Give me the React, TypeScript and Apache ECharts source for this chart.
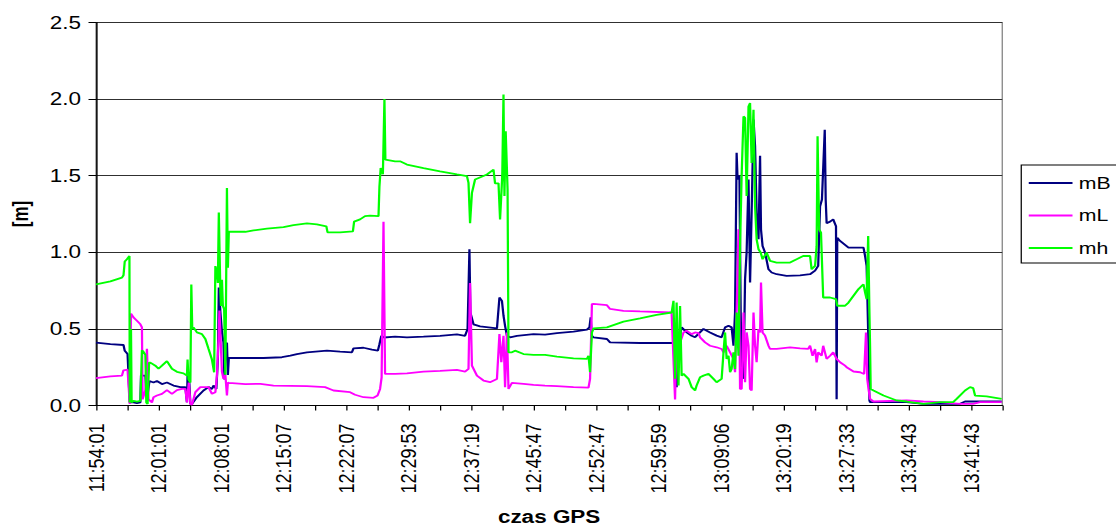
import React, { useEffect, useRef } from 'react';
import * as echarts from 'echarts';

// x values are positions in axis-tick units (one tick = half of the spacing between time labels)
const TIME_LABELS = ['11:54:01', '12:01:01', '12:08:01', '12:15:07', '12:22:07', '12:29:53', '12:37:19', '12:45:47', '12:52:47', '12:59:59', '13:09:06', '13:20:19', '13:27:33', '13:34:43', '13:41:43'];
const SERIES_NAMES = ['mB', 'mL', 'mh'];
const SERIES_COLORS = ['#000080', '#FF00FF', '#00FF00'];
const Y_TICKS = [0, 0.5, 1.0, 1.5, 2.0, 2.5];

const mB: number[][] = [[0,0.41],[0.46,0.40],[0.88,0.395],[0.92,0.357],[1.01,0.336],[1.08,0.02],[1.20,0.02],[1.31,0.015],[1.42,0.02],[1.44,0.195],[1.58,0.195],[1.63,0.04],[1.71,0.16],[1.84,0.15],[1.95,0.16],[2.11,0.14],[2.27,0.15],[2.48,0.13],[2.70,0.12],[2.86,0.12],[2.91,0.022],[2.93,0.195],[2.97,0.217],[3.02,0.01],[3.07,0.01],[3.23,0.055],[3.44,0.098],[3.60,0.12],[3.71,0.108],[3.76,0.13],[3.85,0.108],[3.90,0.3],[3.93,0.77],[3.98,0.61],[4.03,0.48],[4.08,0.41],[4.11,0.17],[4.15,0.40],[4.19,0.41],[4.22,0.2],[4.25,0.31],[4.78,0.31],[5.36,0.31],[5.95,0.315],[6.22,0.325],[6.43,0.336],[6.75,0.347],[7.39,0.358],[7.81,0.351],[8.19,0.347],[8.24,0.373],[8.56,0.377],[8.83,0.364],[9.02,0.358],[9.07,0.40],[9.13,0.455],[9.22,0.444],[9.57,0.449],[9.95,0.445],[10.48,0.449],[11.01,0.455],[11.55,0.464],[11.81,0.455],[11.89,0.5],[11.95,1.02],[11.98,0.607],[12.08,0.53],[12.29,0.516],[12.83,0.503],[12.91,0.705],[12.99,0.683],[13.04,0.586],[13.09,0.52],[13.15,0.455],[13.25,0.445],[13.47,0.455],[14.0,0.466],[14.37,0.462],[14.75,0.473],[15.28,0.482],[15.71,0.495],[15.79,0.51],[15.83,0.575],[15.87,0.455],[15.92,0.445],[16.35,0.434],[16.45,0.412],[17.41,0.408],[18.48,0.408],[18.53,0.325],[18.58,0.12],[18.64,0.41],[18.74,0.51],[18.9,0.477],[19.06,0.455],[19.17,0.445],[19.22,0.456],[19.44,0.50],[19.65,0.477],[19.86,0.456],[20.02,0.445],[20.13,0.51],[20.24,0.52],[20.34,0.51],[20.4,0.39],[20.45,0.607],[20.5,1.65],[20.53,1.475],[20.59,1.5],[20.63,0.607],[20.66,0.26],[20.72,0.174],[20.77,0.824],[20.82,1.0],[20.88,1.475],[20.93,0.803],[20.98,1.258],[21.04,1.866],[21.09,1.692],[21.14,1.258],[21.2,1.085],[21.25,1.63],[21.28,1.149],[21.33,1.041],[21.41,0.998],[21.52,0.889],[21.62,0.868],[21.78,0.857],[22.1,0.846],[22.53,0.85],[22.85,0.857],[23.01,0.88],[23.11,0.911],[23.17,1.30],[23.23,1.345],[23.32,1.80],[23.35,1.345],[23.38,1.19],[23.49,1.2],[23.59,1.215],[23.68,1.17],[23.7,0.04],[23.72,1.095],[23.81,1.074],[24.02,1.04],[24.08,1.03],[24.56,1.03],[24.61,0.976],[24.66,0.911],[24.72,0.39],[24.75,0.033],[24.77,0.022],[25.94,0.022],[26.48,0.011],[27.65,0.011],[27.81,0.026],[28.98,0.026]];

const mL: number[][] = [[0,0.178],[0.46,0.19],[0.83,0.195],[0.88,0.23],[1.01,0.234],[1.08,0.01],[1.12,0.60],[1.20,0.575],[1.31,0.553],[1.42,0.53],[1.47,0.51],[1.49,0.04],[1.58,0.1],[1.63,0.37],[1.68,0.04],[1.79,0.02],[1.84,0.054],[1.95,0.065],[2.11,0.076],[2.27,0.10],[2.43,0.076],[2.59,0.10],[2.75,0.108],[2.86,0.108],[2.91,0.02],[2.97,0.15],[3.02,0.01],[3.07,0.005],[3.18,0.087],[3.34,0.12],[3.50,0.12],[3.60,0.12],[3.71,0.076],[3.82,0.087],[3.87,0.195],[3.92,0.43],[3.95,0.62],[4.03,0.22],[4.08,0.174],[4.14,0.2],[4.19,0.065],[4.22,0.15],[4.25,0.148],[4.78,0.14],[5.26,0.141],[5.68,0.13],[6.75,0.126],[7.33,0.12],[7.6,0.098],[8.13,0.087],[8.29,0.07],[8.56,0.054],[8.88,0.05],[9.01,0.065],[9.09,0.108],[9.14,0.184],[9.2,1.20],[9.25,0.206],[9.57,0.206],[9.95,0.21],[10.48,0.221],[11.01,0.226],[11.55,0.232],[11.81,0.221],[11.92,0.239],[11.97,0.80],[12.03,0.26],[12.19,0.195],[12.4,0.163],[12.61,0.152],[12.83,0.173],[12.91,0.466],[12.97,0.282],[13.04,0.455],[13.09,0.12],[13.15,0.477],[13.2,0.108],[13.31,0.148],[13.68,0.141],[14.0,0.134],[14.37,0.13],[14.75,0.126],[15.28,0.12],[15.76,0.117],[15.81,0.174],[15.87,0.662],[15.92,0.664],[16.35,0.655],[16.45,0.63],[16.88,0.618],[17.41,0.614],[18.42,0.607],[18.53,0.04],[18.58,0.5],[18.69,0.41],[18.8,0.477],[18.9,0.488],[19.06,0.466],[19.17,0.477],[19.28,0.473],[19.33,0.445],[19.49,0.412],[19.65,0.39],[19.86,0.38],[20.02,0.369],[20.08,0.347],[20.18,0.39],[20.29,0.347],[20.4,0.304],[20.45,0.217],[20.5,0.607],[20.56,1.15],[20.61,0.108],[20.66,0.108],[20.72,0.607],[20.77,0.152],[20.82,0.477],[20.88,0.39],[20.93,0.108],[20.98,0.098],[21.04,0.607],[21.09,0.39],[21.14,0.282],[21.2,0.499],[21.25,0.477],[21.28,0.803],[21.33,0.477],[21.41,0.456],[21.52,0.39],[21.57,0.369],[21.78,0.369],[22.21,0.38],[22.53,0.373],[22.79,0.369],[22.85,0.39],[22.93,0.325],[23.01,0.369],[23.06,0.282],[23.11,0.347],[23.22,0.325],[23.27,0.39],[23.38,0.304],[23.49,0.325],[23.59,0.347],[23.7,0.304],[23.81,0.282],[23.97,0.26],[24.02,0.25],[24.24,0.222],[24.45,0.217],[24.58,0.206],[24.64,0.477],[24.68,0.174],[24.72,0.108],[24.77,0.043],[24.88,0.026],[25.94,0.033],[26.48,0.026],[27.01,0.022],[27.65,0.011],[28.07,0.011],[28.29,0.022],[28.98,0.022]];

const mh: number[][] = [[0,0.79],[0.46,0.81],[0.83,0.835],[0.88,0.85],[0.92,0.94],[0.99,0.955],[1.07,0.976],[1.08,0.02],[1.10,0.03],[1.12,0.5],[1.14,0.02],[1.20,0.03],[1.31,0.025],[1.42,0.03],[1.47,0.36],[1.52,0.35],[1.58,0.33],[1.61,0.02],[1.65,0.01],[1.70,0.28],[1.74,0.28],[1.90,0.26],[2.00,0.24],[2.11,0.26],[2.27,0.29],[2.43,0.24],[2.59,0.22],[2.80,0.21],[2.91,0.195],[2.93,0.30],[2.96,0.17],[3.02,0.15],[3.05,0.79],[3.08,0.5],[3.12,0.51],[3.23,0.477],[3.39,0.466],[3.50,0.434],[3.60,0.37],[3.71,0.30],[3.78,0.217],[3.82,0.91],[3.87,0.87],[3.90,0.80],[3.93,1.26],[3.98,0.74],[4.00,0.65],[4.03,0.82],[4.06,0.65],[4.10,0.63],[4.14,0.2],[4.19,1.42],[4.22,0.9],[4.25,1.134],[4.78,1.134],[5.04,1.143],[5.47,1.154],[6.0,1.165],[6.32,1.178],[6.75,1.189],[7.07,1.182],[7.37,1.17],[7.41,1.13],[7.81,1.13],[8.22,1.137],[8.26,1.20],[8.45,1.215],[8.61,1.236],[8.77,1.24],[9.04,1.236],[9.07,1.43],[9.11,1.55],[9.18,1.51],[9.23,2.0],[9.26,1.605],[9.57,1.594],[9.73,1.594],[9.95,1.573],[10.48,1.55],[11.01,1.529],[11.55,1.508],[11.87,1.497],[11.92,1.453],[11.97,1.19],[12.03,1.388],[12.13,1.475],[12.51,1.508],[12.72,1.54],[12.77,1.45],[12.88,1.45],[12.93,1.215],[13.0,1.497],[13.04,2.03],[13.07,1.367],[13.11,1.79],[13.17,1.41],[13.2,0.347],[13.31,0.347],[13.41,0.358],[13.68,0.336],[14.0,0.33],[14.37,0.33],[14.75,0.319],[15.28,0.308],[15.71,0.304],[15.76,0.325],[15.81,0.217],[15.87,0.477],[15.92,0.503],[16.35,0.51],[16.88,0.547],[17.41,0.568],[17.94,0.592],[18.42,0.607],[18.48,0.683],[18.53,0.174],[18.58,0.672],[18.64,0.13],[18.69,0.65],[18.74,0.195],[18.8,0.206],[18.96,0.174],[19.06,0.12],[19.17,0.098],[19.22,0.13],[19.33,0.184],[19.44,0.195],[19.6,0.206],[19.76,0.174],[19.86,0.152],[20.02,0.174],[20.08,0.347],[20.13,0.477],[20.18,0.304],[20.24,0.325],[20.29,0.217],[20.34,0.239],[20.4,0.347],[20.45,0.239],[20.5,0.607],[20.56,0.325],[20.61,1.04],[20.66,1.5],[20.72,1.887],[20.77,1.877],[20.82,1.367],[20.88,1.952],[20.93,1.974],[20.98,1.583],[21.04,1.93],[21.09,1.301],[21.14,1.085],[21.2,1.02],[21.27,0.998],[21.33,0.955],[21.46,0.998],[21.57,0.944],[21.78,0.933],[22.21,0.933],[22.42,0.955],[22.63,0.976],[22.85,0.976],[22.9,0.889],[23.01,0.911],[23.06,1.04],[23.09,1.757],[23.14,1.149],[23.2,1.128],[23.25,0.824],[23.27,0.705],[23.49,0.705],[23.68,0.694],[23.72,0.651],[23.97,0.651],[24.08,0.672],[24.24,0.716],[24.4,0.76],[24.5,0.78],[24.56,0.79],[24.61,0.738],[24.66,0.694],[24.71,1.106],[24.75,0.607],[24.77,0.39],[24.79,0.108],[24.88,0.098],[25.2,0.065],[25.62,0.033],[25.94,0.026],[26.48,0.011],[27.01,0.022],[27.43,0.022],[27.54,0.043],[27.81,0.098],[27.97,0.12],[28.07,0.113],[28.13,0.065],[28.5,0.06],[28.98,0.043]];

const SERIES_DATA = [mB, mL, mh];

// the reference is horizontally stretched; render narrower and stretch with CSS
const SX = 1.25;
const W = 1116 / SX;
const H = 526;
const FONT = '"Liberation Sans", Arial, sans-serif';

export default function App() {
  const ref = useRef<HTMLDivElement>(null);
  useEffect(() => {
    document.body.style.margin = '0';
    const chart = echarts.init(ref.current as HTMLDivElement, null, { renderer: 'svg' });
    const plotLeft = 76.8;
    const plotRight = 801.6;
    chart.setOption({
      animation: false,
      backgroundColor: '#ffffff',
      textStyle: { fontFamily: FONT },
      grid: {
        left: plotLeft,
        right: W - plotRight,
        top: 22.5,
        bottom: H - 405.5,
        containLabel: false,
        outerBoundsMode: 'none',
        show: true,
        borderColor: '#808080',
        borderWidth: 1,
      },
      legend: {
        orient: 'vertical',
        left: 817,
        top: 165,
        icon: 'rect',
        itemWidth: 35,
        itemHeight: 2,
        itemGap: 15.5,
        padding: [9.5, 14, 6.5, 6],
        borderColor: '#000',
        borderWidth: 1,
        textStyle: { fontSize: 17, color: '#000', fontFamily: FONT },
        data: SERIES_NAMES,
      },
      xAxis: {
        type: 'value',
        min: 0,
        max: 29,
        interval: 1,
        name: 'czas GPS',
        nameLocation: 'middle',
        nameGap: 102,
        nameTextStyle: { fontWeight: 'bold', fontSize: 18, color: '#000', fontFamily: FONT },
        axisLine: { show: true, onZero: false, lineStyle: { color: '#000', width: 1.2 } },
        axisTick: { show: true, length: 5, lineStyle: { color: '#000' } },
        axisLabel: {
          rotate: 90,
          margin: 18,
          fontSize: 18,
          color: '#000',
          fontFamily: FONT,
          showMinLabel: true,
          showMaxLabel: true,
          formatter: (v: number) => {
            const i = Math.round(v);
            return i % 2 === 0 && TIME_LABELS[i / 2] ? TIME_LABELS[i / 2] : '';
          },
        },
        splitLine: { show: false },
      },
      yAxis: {
        type: 'value',
        min: Y_TICKS[0],
        max: Y_TICKS[Y_TICKS.length - 1],
        interval: 0.5,
        name: '[m]',
        nameLocation: 'middle',
        nameGap: 52,
        nameRotate: 90,
        nameTextStyle: { fontWeight: 'bold', fontSize: 17, color: '#000', fontFamily: FONT },
        axisLine: { show: true, lineStyle: { color: '#000', width: 1.2 } },
        axisTick: { show: true, length: 6, lineStyle: { color: '#000' } },
        axisLabel: {
          fontSize: 18,
          margin: 12,
          color: '#000',
          fontFamily: FONT,
          formatter: (v: number) => v.toFixed(1),
        },
        splitLine: { show: true, lineStyle: { color: '#303030', width: 1 } },
      },
      series: SERIES_NAMES.map((name, i) => ({
        name,
        type: 'line',
        data: SERIES_DATA[i],
        showSymbol: false,
        symbol: 'none',
        color: SERIES_COLORS[i],
        lineStyle: { color: SERIES_COLORS[i], width: 1.8 },
        z: 2 + i,
      })),
    });
    return () => chart.dispose();
  }, []);
  return (
    <div
      ref={ref}
      style={{ width: W, height: H, transform: `scaleX(${SX})`, transformOrigin: '0 0' }}
    />
  );
}
